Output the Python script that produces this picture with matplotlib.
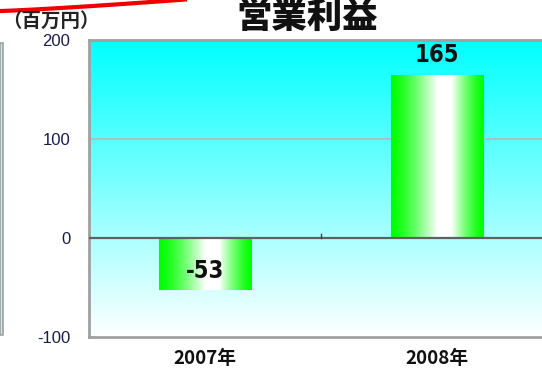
import matplotlib
matplotlib.use("Agg")
import matplotlib.pyplot as plt
import numpy as np
from matplotlib.patches import Rectangle

plt.rcParams['font.family'] = ['Noto Sans CJK JP', 'DejaVu Sans']

categories = ["2007年", "2008年"]
values = [-53, 165]
yticks = [-100, 0, 100, 200]
title = "営業利益"
unit = "（百万円）"

W, H = 542, 375
fig = plt.figure(figsize=(W / 100, H / 100), dpi=100)

# axes: left 89px, right 553px (cropped), top 40px, bottom 337px
ax = fig.add_axes([89 / W, 1 - 337 / H, 464 / W, 297 / H])
ax.set_xlim(-0.5, 1.5)
ax.set_ylim(-100, 200)

# background gradient cyan -> white
bg = np.ones((256, 1, 3))
t = np.linspace(1, 0, 256)  # 1 at top -> 0 at bottom
bg[:, 0, 0] = 1 - t
ax.imshow(bg, extent=[-0.5, 1.5, -100, 200], aspect='auto', origin='upper', zorder=0)

# gridline at 100
ax.axhline(100, color='#b8b8b8', lw=1.2, zorder=1)

# bars with horizontal green-white-green gradient
bw = 0.4
xg = np.linspace(0, 1, 256)
left = np.clip((xg - 0.0) / 0.5, 0, 1) ** 1.4
right = np.clip((1.0 - xg) / 0.35, 0, 1) ** 1.4
prof = np.minimum(left, right)
bimg = np.zeros((1, 256, 3))
bimg[0, :, 0] = prof
bimg[0, :, 1] = 1
bimg[0, :, 2] = prof
bars = ax.bar(range(len(values)), values, width=bw, color='none', zorder=2)
for i, (b, v) in enumerate(zip(bars, values)):
    x0 = b.get_x()
    lo, hi = min(0, v), max(0, v)
    im = ax.imshow(bimg, extent=[x0, x0 + bw, lo, hi], aspect='auto', zorder=2)
    im.set_clip_path(b)

# zero line
ax.axhline(0, color='#606060', lw=1.6, zorder=3)
ax.plot([0.5, 0.5], [0, 4], color='#404040', lw=1, zorder=3)

# data labels
ax.text(0, values[0] * 0.62, "-53", ha='center', va='center', fontweight='bold',
        fontsize=17, family='DejaVu Sans', fontstretch='condensed', color='#111111', zorder=4)
ax.text(1, values[1] + 8, str(values[1]), ha='center', va='bottom', fontweight='bold',
        fontsize=17, family='DejaVu Sans', fontstretch='condensed', color='#111111', zorder=4)

ax.set_yticks(yticks)
ax.set_yticklabels([str(v) for v in yticks], fontsize=12, family=['Liberation Sans', 'DejaVu Sans'],
                   color='#1a1a50')
ax.set_xticks(range(len(categories)))
ax.set_xticklabels(categories, fontsize=13.5, fontweight='bold', color='#111111')
ax.tick_params(axis='both', length=0)
ax.tick_params(axis='y', pad=13.5)
ax.tick_params(axis='x', pad=9)
for s in ax.spines.values():
    s.set_color('#a0a0a0')
    s.set_linewidth(2)
ax.spines['right'].set_visible(False)

# title and unit
fig.text(307 / W, 1 - 17 / H, title, ha='center', va='center', fontsize=25.5, fontweight='heavy', color='#111111')
fig.text(51 / W, 1 - 21 / H, unit, ha='center', va='center', fontsize=14, fontweight='bold',
         color='#222222', family=['Noto Sans CJK JP'])

# left neighbour panel edge
fig.add_artist(Rectangle((0, 1 - 335 / H), 2.5 / W, (335 - 43) / H, transform=fig.transFigure,
                         facecolor='#aef4f4', edgecolor='#a0a0a0', lw=1.2))

# red arc at top left
xs = np.linspace(0, 185, 100)
ys = 11 - 11.5 * (xs / 185) ** 1.2
fig.add_artist(plt.Line2D(xs / W, 1 - ys / H, color='#ee0000', lw=3, transform=fig.transFigure))

fig.savefig("out.png", dpi=100)
